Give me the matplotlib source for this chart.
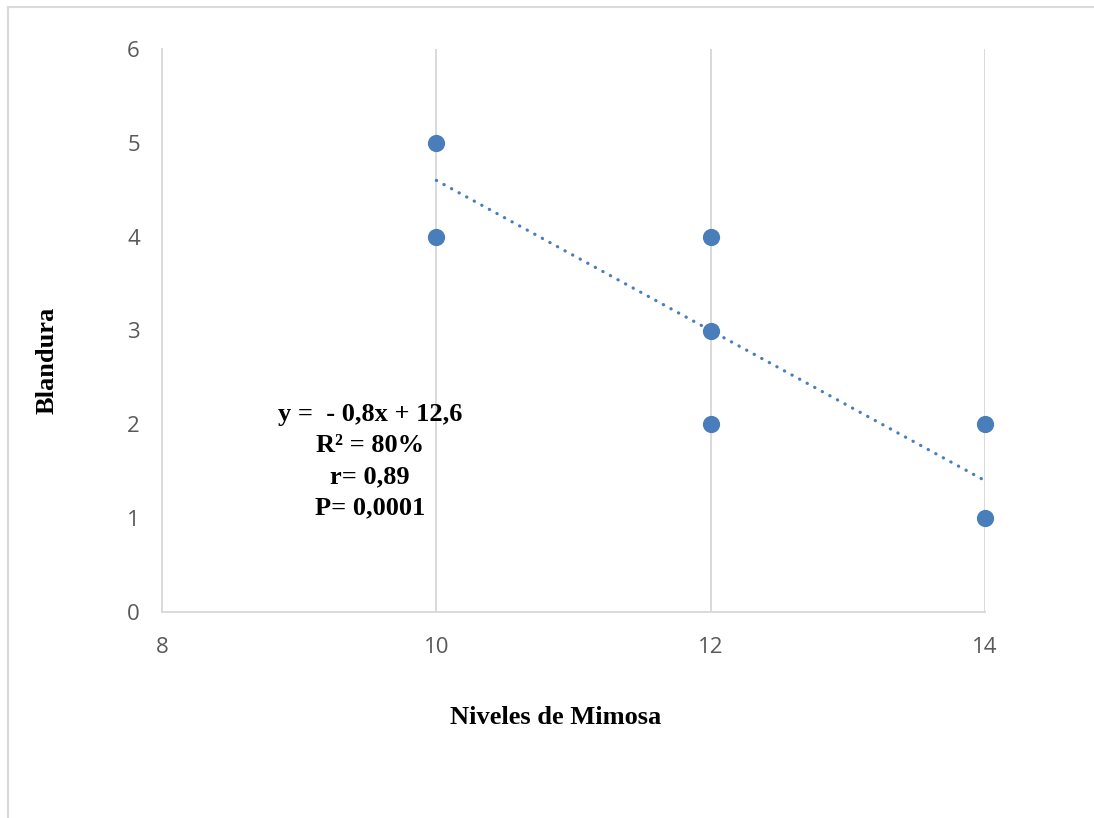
import numpy as np
import matplotlib.pyplot as plt
from matplotlib.lines import Line2D

# Datos
niveles = [10, 10, 12, 12, 12, 14, 14]
blandura = [5, 4, 4, 3, 2, 2, 1]
pendiente = -0.8
intercepto = 12.6
x_ticks = [8, 10, 12, 14]
y_ticks = [0, 1, 2, 3, 4, 5, 6]
texto_ecuacion = ['y =  - 0,8x + 12,6', 'R² = 80%', 'r= 0,89', 'P= 0,0001']

azul = '#4a7ebb'
gris = '#d9d9d9'

fig = plt.figure( figsize=( 10.94, 8.18 ), dpi=100 )
ax = fig.add_axes( [ 162 / 1094, 1 - 612 / 818, 823 / 1094, 563 / 818 ] )

# borde del grafico (solo arriba e izquierda visibles)
fig.add_artist( Line2D( [ 8 / 1094, 1 ], [ 1 - 7 / 818, 1 - 7 / 818 ], color=gris, lw=1.5 ) )
fig.add_artist( Line2D( [ 8 / 1094, 8 / 1094 ], [ 0, 1 - 7 / 818 ], color=gris, lw=1.5 ) )

ax.set_xlim( 8, 14 )
ax.set_ylim( 0, 6 )
ax.set_xticks( x_ticks )
ax.set_yticks( y_ticks )
ax.grid( axis='x', color=gris, lw=1.4 )
ax.set_axisbelow( True )
for s in [ 'top', 'right' ]:
    ax.spines[ s ].set_visible( False )
for s in [ 'left', 'bottom' ]:
    ax.spines[ s ].set_color( gris )
    ax.spines[ s ].set_linewidth( 1.4 )
ax.tick_params( length=0, labelsize=16, labelcolor='#595959' )
for lab in ax.get_xticklabels() + ax.get_yticklabels():
    lab.set_fontfamily( 'Open Sans' )
ax.tick_params( axis='x', pad=18 )
ax.tick_params( axis='y', pad=16 )

# linea de tendencia
xt = np.array( [ min( niveles ), max( niveles ) ] )
ax.plot( xt, pendiente * xt + intercepto, color=azul, lw=2.3,
         linestyle=( 0, ( 0.1, 2.6 ) ), dash_capstyle='round', zorder=2 )

ax.scatter( niveles, blandura, s=130, color=azul, zorder=3, clip_on=False )

ax.set_xlabel( 'Niveles de Mimosa', fontfamily='Liberation Serif', fontweight='bold',
               fontsize=19, va='center' )
ax.xaxis.set_label_coords( ( 556 - 162 ) / 823, ( 612 - 718 ) / 563 )
ax.set_ylabel( 'Blandura', fontfamily='Liberation Serif', fontweight='bold',
               fontsize=19, va='center', ha='center' )
ax.yaxis.set_label_coords( ( 47 - 162 ) / 823, ( 612 - 360 ) / 563 )

for i, t in enumerate( texto_ecuacion ):
    ax.text( 8.0 + ( 370 - 162 ) / 823 * 6, 6 - ( 415 + i * 31 - 49 ) / 563 * 6, t,
             ha='center', va='center', fontfamily='Liberation Serif',
             fontweight='bold', fontsize=19 )

fig.savefig( 'out.png', dpi=100 )
